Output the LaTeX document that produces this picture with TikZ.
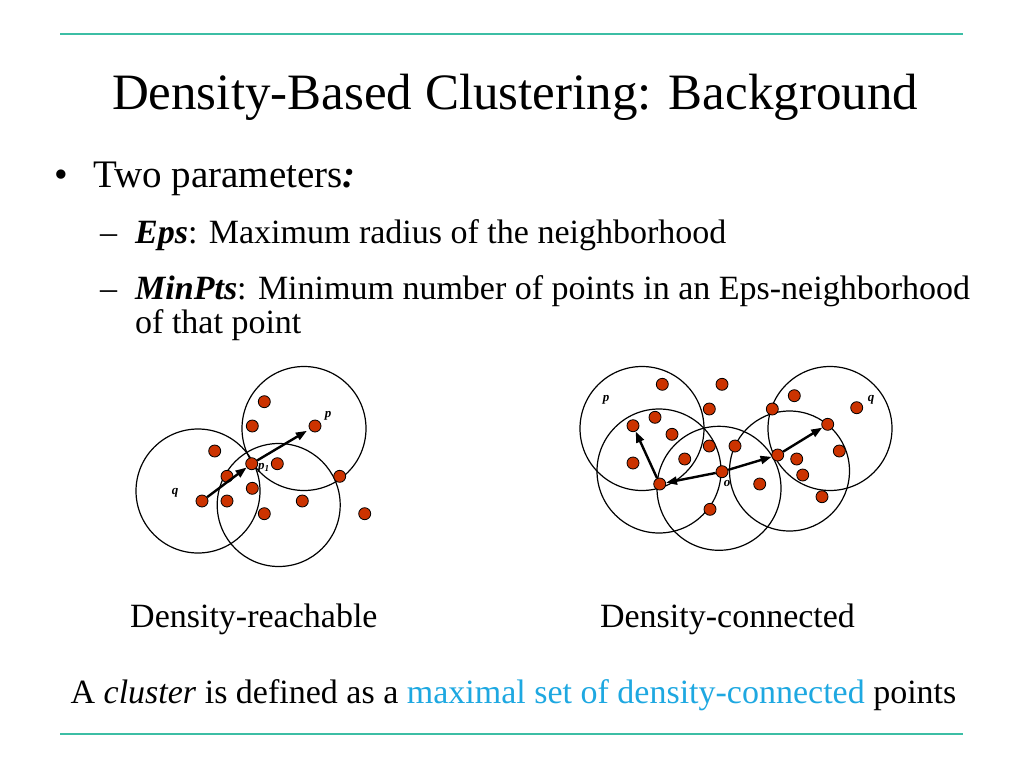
\documentclass[tikz,border=0pt]{standalone}
\usepackage{fontspec}
\setmainfont{Liberation Serif}
\usetikzlibrary{arrows.meta, positioning}
\definecolor{dotred}{RGB}{204,51,0}
\definecolor{rulecol}{RGB}{60,190,165}
\definecolor{hilite}{RGB}{30,168,225}
\tikzset{
  dot/.style={circle, draw, fill=dotred, inner sep=0pt, minimum size=12pt, line width=0.8pt},
  nbhd/.style={draw, line width=1.2pt},
  arr/.style={-{Triangle[length=11pt,width=8pt]}, line width=2.4pt},
  lab/.style={font=\fontsize{13}{13}\selectfont\bfseries\itshape, inner sep=0pt},
  txt/.style={inner sep=0pt, anchor=base west},
  rulestyle/.style={draw=rulecol, line width=2pt},
}

\begin{document}
\begin{tikzpicture}[x=1pt, y=-1pt]
  \useasboundingbox[fill=white] (0,0) rectangle (1024,768);

  % slide frame and text
  \draw[rulestyle] (60,34) -- (963,34);
  \draw[rulestyle] (60,734) -- (963,734);
  \node[anchor=base, inner sep=0pt, font=\fontsize{51}{51}\selectfont] (title) at (515,109) {Density-Based Clustering: Background};
  \node[txt, font=\fontsize{39}{39}\selectfont] (b1) at (54,187) {\textbullet};
  \node[txt, font=\fontsize{39}{39}\selectfont] (twopar) at (93,187) {Two parameters\textit{\textbf{:}}};
  \node[txt, font=\fontsize{34}{34}\selectfont] (d1) at (100,243) {--};
  \node[txt, font=\fontsize{34}{34}\selectfont] (eps) at (135,243) {\textbf{\textit{Eps}}: Maximum radius of the neighborhood};
  \node[txt, font=\fontsize{34}{34}\selectfont] (d2) at (100,299) {--};
  \node[txt, font=\fontsize{34}{34}\selectfont] (minpts) at (135,299) {\textbf{\textit{MinPts}}: Minimum number of points in an Eps-neighborhood};
  \node[txt, font=\fontsize{34}{34}\selectfont] (minpts2) at (135,333) {of that point};

  % density-reachable
  \draw[nbhd] (198,491) circle[radius=62pt];
  \draw[nbhd] (278.7,505) circle[radius=61.5pt];
  \draw[nbhd] (304,428.5) circle[radius=62pt];
  \foreach \x/\y [count=\i] in {264.3/401.7, 252.3/426, 214.7/451, 277.3/463.7, 227/476.3, 339.7/476.3,
                                252.3/488.3, 227/501, 302.3/501, 264.3/513.7, 364.7/513.7}
    \node[dot] (a\i) at (\x,\y) {};
  \node[dot] (q) at (202,501) {};
  \node[dot] (p1) at (251.7,463.7) {};
  \node[dot] (p) at (315,426) {};
  \draw[arr] (q) -- (p1);
  \draw[arr, shorten >=3pt] (p1) -- (p);
  \node[lab] (qlab) at (175,493) {q};
  \node[lab] (plab) at (328,416) {p};
  \node[lab] (p1lab) at (264,468) {p\textsubscript{\textit{1}}};

  % density-connected
  \draw[nbhd] (642,428.5) circle[radius=62pt];
  \draw[nbhd] (659,471) circle[radius=62pt];
  \draw[nbhd] (719,488.3) circle[radius=62pt];
  \draw[nbhd] (789.5,471) circle[radius=60pt];
  \draw[nbhd] (830,428.5) circle[radius=62pt];
  \foreach \x/\y [count=\i] in {662.3/384.3, 722/384.3, 794.3/395.7, 856.7/407.7, 709.3/409, 772.3/409,
                                655/417.3, 672/434.3, 709.3/446, 735/446, 839.3/451, 796.7/459,
                                633/463, 684.7/459, 802.7/475, 759.7/484, 822/496.7, 710/509.3}
    \node[dot] (c\i) at (\x,\y) {};
  \node[dot] (rp) at (633,425.7) {};
  \node[dot] (rq) at (827.7,424.3) {};
  \node[dot] (o) at (722,471.7) {};
  \node[dot] (r1) at (659.7,484) {};
  \node[dot] (r2) at (777.7,455) {};
  \draw[arr] (r1) -- (rp);
  \draw[arr] (o) -- (r1);
  \draw[arr] (o) -- (r2);
  \draw[arr] (r2) -- (rq);
  \node[lab] (rplab) at (606,400) {p};
  \node[lab] (rqlab) at (871,400) {q};
  \node[lab] (olab) at (727,483) {o};

  % captions
  \node[txt, font=\fontsize{34}{34}\selectfont] (cap1) at (130,627) {Density-reachable};
  \node[anchor=base, inner sep=0pt, font=\fontsize{34}{34}\selectfont] (cap2) at (727.5,627) {Density-connected};
  \node[anchor=base, inner sep=0pt, font=\fontsize{34}{34}\selectfont] (defn) at (513.5,703)
    {A \textit{cluster} is defined as a \textcolor{hilite}{maximal set of density-connected} points};
\end{tikzpicture}
\end{document}
